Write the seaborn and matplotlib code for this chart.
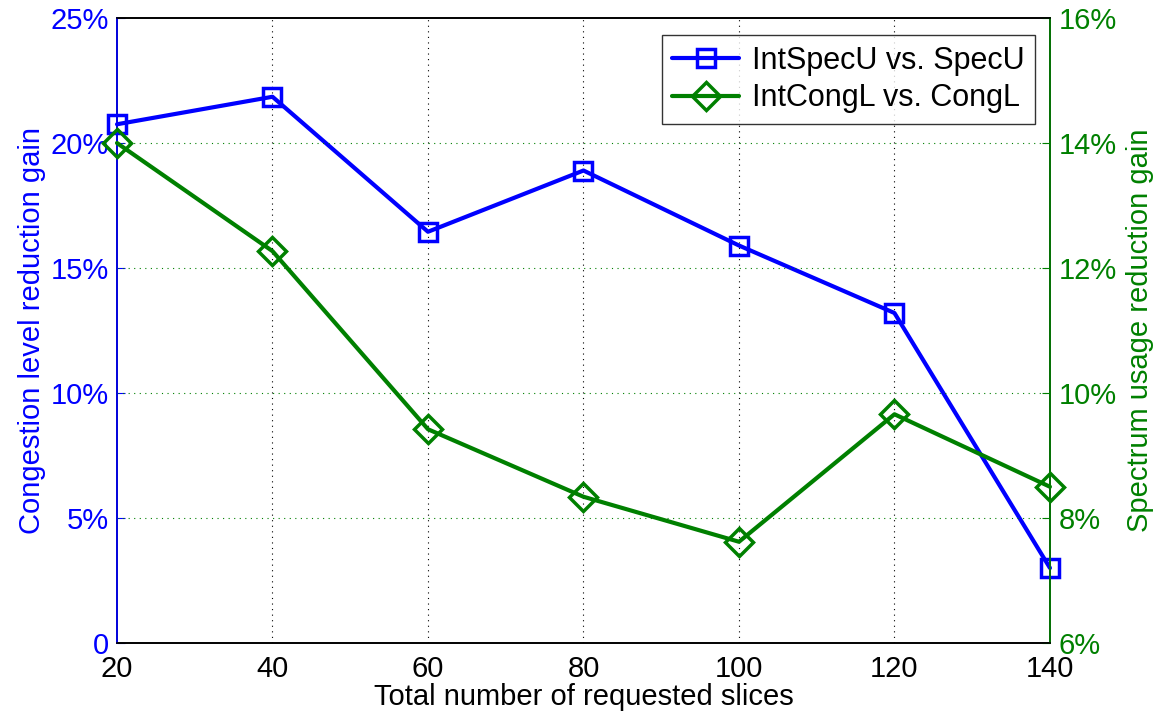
import pandas as pd
import matplotlib
matplotlib.use("Agg")
import matplotlib.pyplot as plt
import seaborn as sns
from matplotlib.ticker import FuncFormatter

# data
slices = [20, 40, 60, 80, 100, 120, 140]
spec_gain = [20.75, 21.85, 16.45, 18.9, 15.9, 13.2, 3.0]      # left axis, %
cong_gain = [14.0, 12.27, 9.42, 8.34, 7.62, 9.66, 8.5]         # right axis, %

left_ticks = [0, 5, 10, 15, 20, 25]
right_ticks = [6, 8, 10, 12, 14, 16]

BLUE = "#0000ff"
GREEN = "#008000"

sns.set_style("white")
plt.rcParams["font.family"] = ["Liberation Sans", "DejaVu Sans"]
plt.rcParams["font.size"] = 18
plt.rcParams["text.color"] = "black"
plt.rcParams["axes.labelcolor"] = "black"

df = pd.DataFrame({"slices": slices, "spec": spec_gain, "cong": cong_gain})

fig = plt.figure(figsize=(11.63, 7.15), dpi=100)
ax = fig.add_axes([0.1006, 0.1007, 0.8022, 0.8741])
ax2 = ax.twinx()

sns.lineplot(data=df, x="slices", y="spec", ax=ax, color=BLUE, lw=3,
             marker="s", markersize=13, markerfacecolor="none",
             markeredgecolor=BLUE, markeredgewidth=2.5, label="IntSpecU vs. SpecU",
             legend=False, clip_on=False, zorder=5)
sns.lineplot(data=df, x="slices", y="cong", ax=ax2, color=GREEN, lw=3,
             marker="D", markersize=14, markerfacecolor="none",
             markeredgecolor=GREEN, markeredgewidth=2.5, label="IntCongL vs. CongL",
             legend=False, clip_on=False, zorder=5)

ax.set_xlim(20, 140)
ax.set_ylim(0, 25)
ax2.set_ylim(6, 16)
ax.set_xticks(slices)
ax.set_yticks(left_ticks)
ax2.set_yticks(right_ticks)
ax.yaxis.set_major_formatter(FuncFormatter(lambda v, p: "0" if v == 0 else f"{v:.0f}%"))
ax2.yaxis.set_major_formatter(FuncFormatter(lambda v, p: f"{v:.0f}%"))

# grid: vertical black dotted, horizontal green dotted
ax.grid(False)
ax2.grid(False)
for xv in slices[1:-1]:
    ax.axvline(xv, color="black", ls=(0, (1, 4)), lw=0.8, zorder=0)
for yv in right_ticks[1:-1]:
    ax2.axhline(yv, color=GREEN, ls=(0, (1, 4)), lw=0.8, zorder=0)

ax.tick_params(axis="x", direction="in", length=6, colors="black", labelcolor="black",
               labelsize=21, pad=9)
ax.tick_params(axis="y", direction="in", length=6, colors=BLUE, labelcolor=BLUE,
               labelsize=21, pad=6)
ax2.tick_params(axis="y", direction="in", length=6, colors=GREEN, labelcolor=GREEN,
                labelsize=21, pad=6)

for a in (ax, ax2):
    for s in a.spines.values():
        s.set_linewidth(1.2)
        s.set_color("black")
ax2.spines["left"].set_color(BLUE)
ax2.spines["right"].set_color(GREEN)

ax.set_xlabel("Total number of requested slices", fontsize=21, labelpad=0, color="black")
ax.set_ylabel("Congestion level reduction gain", color=BLUE, fontsize=21, labelpad=3)
ax2.set_ylabel("Spectrum usage reduction gain", color=GREEN, fontsize=21, labelpad=7)

h1, l1 = ax.get_legend_handles_labels()
h2, l2 = ax2.get_legend_handles_labels()
leg = ax2.legend(h1 + h2, l1 + l2, loc="upper right", bbox_to_anchor=(0.984, 0.973),
                 borderaxespad=0, fontsize=22, frameon=True, fancybox=False,
                 edgecolor="black", handlelength=2.2, borderpad=0.35,
                 labelspacing=0.25, handletextpad=0.4)
leg.get_frame().set_linewidth(1.0)

fig.savefig("out.png", dpi=100)
